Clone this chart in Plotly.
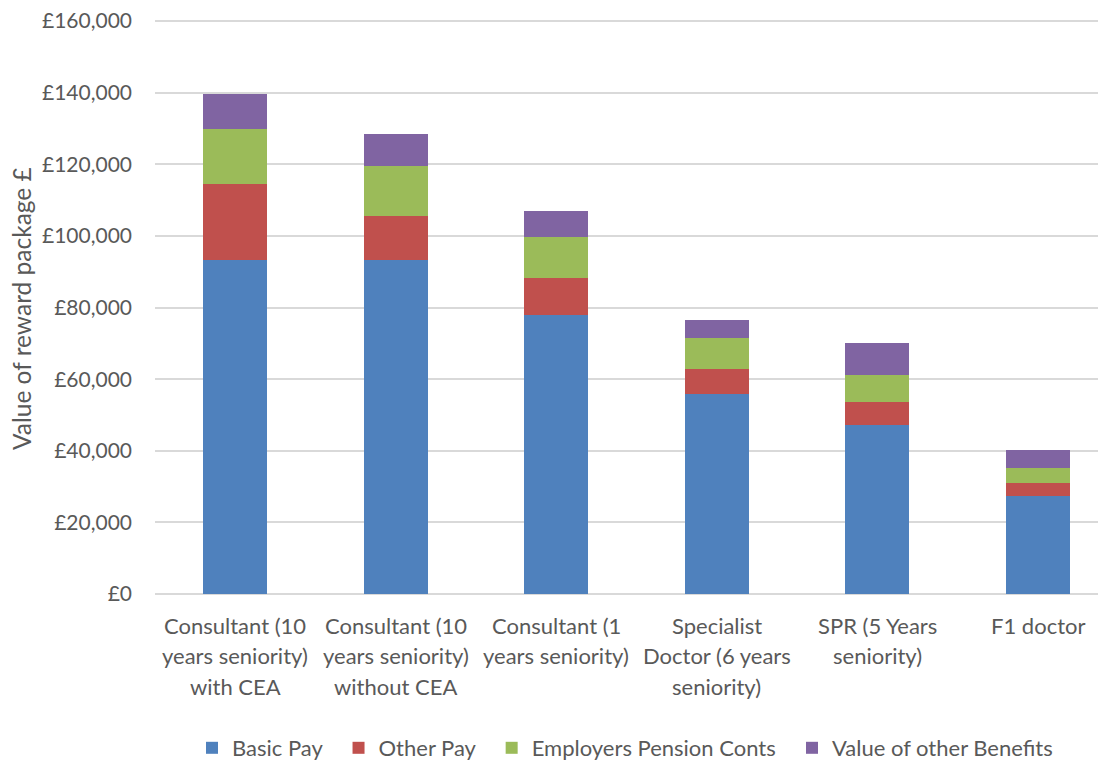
import plotly.graph_objects as go

categories = [
    "Consultant (10<br>years seniority)<br>with CEA",
    "Consultant (10<br>years seniority)<br>without CEA",
    "Consultant (1<br>years seniority)",
    "Specialist<br>Doctor (6 years<br>seniority)",
    "SPR (5 Years<br>seniority)",
    "F1 doctor",
]
basic_pay = [93240, 93240, 77900, 55860, 47210, 27400]
other_pay = [21400, 12460, 10320, 7060, 6500, 3540]
pension = [15230, 13850, 11440, 8560, 7450, 4190]
benefits = [9690, 9040, 7440, 4940, 8840, 5020]

series_names = ["Basic Pay", "Other Pay", "Employers Pension Conts", "Value of other Benefits"]
series_values = [basic_pay, other_pay, pension, benefits]
colors = ["#4F81BD", "#C0504D", "#9BBB59", "#8064A2"]

tick_vals = [0, 20000, 40000, 60000, 80000, 100000, 120000, 140000, 160000]
tick_text = ["£0", "£20,000", "£40,000", "£60,000", "£80,000", "£100,000", "£120,000", "£140,000", "£160,000"]

FONT = "Lato, Open Sans, sans-serif"
GREY = "#595959"

# page body has an 8px margin, so the figure is sized/positioned to compensate
OFF = 8
W, H = 1106 - OFF, 760 - OFF
PLOT_BOTTOM = 594 - OFF
PX_PER_UNIT = 572.8 / 160000
Y_MAX = 160300  # a touch above the top tick so its gridline is drawn
L, R = 155 - OFF, 0
T = round(PLOT_BOTTOM - Y_MAX * PX_PER_UNIT)
B = H - PLOT_BOTTOM
PW, PH = W - L - R, H - T - B

fig = go.Figure()
xs = list(range(len(categories)))
pad = "\u00a0" * 2
for k, (name, vals, col) in enumerate(zip(series_names, series_values, colors)):
    label = name + (pad if k < len(series_names) - 1 else "")
    fig.add_trace(go.Bar(x=xs, y=vals, name=label, marker=dict(color=col, line=dict(width=0))))

annotations = []
for i, lab in enumerate(categories):
    for j, line in enumerate(lab.split("<br>")):
        annotations.append(dict(
            x=i, y=0, xref="x", yref="paper", text=line, showarrow=False,
            yanchor="middle", xanchor="center", yshift=-(31 + 30.5 * j),
            font=dict(family=FONT, size=22, color=GREY),
        ))

annotations.append(dict(
    x=(21 - OFF - L) / PW, y=(PLOT_BOTTOM - (309 - OFF)) / PH, xref="paper", yref="paper",
    text="Value of reward package £",
    showarrow=False, textangle=-90, xanchor="center", yanchor="middle",
    font=dict(family=FONT, size=24.5, color=GREY),
))

fig.update_layout(
    barmode="stack",
    bargap=0.6,
    width=W, height=H,
    margin=dict(l=L, r=R, t=T, b=B),
    plot_bgcolor="white", paper_bgcolor="white",
    font=dict(family=FONT, size=21, color=GREY),
    xaxis=dict(range=[-0.5, 5.425], showticklabels=False, showgrid=False, zeroline=False,
               showline=False, ticks="", automargin=False),
    yaxis=dict(range=[0, Y_MAX], tickvals=tick_vals, ticktext=tick_text,
               showgrid=True, gridcolor="#D9D9D9", gridwidth=1.5, zeroline=True,
               zerolinecolor="#D9D9D9", zerolinewidth=1.5, ticklabelstandoff=22,
               ticklabeloverflow="allow",
               tickfont=dict(family=FONT, size=21, color=GREY), automargin=False),
    legend=dict(orientation="h", x=(625 - OFF) / W, xref="container", xanchor="center",
                y=(H - (748 - OFF)) / H, yref="container", yanchor="middle",
                itemwidth=30, font=dict(family=FONT, size=22, color=GREY), traceorder="normal"),
    annotations=annotations,
)

fig.write_html("out.html")
